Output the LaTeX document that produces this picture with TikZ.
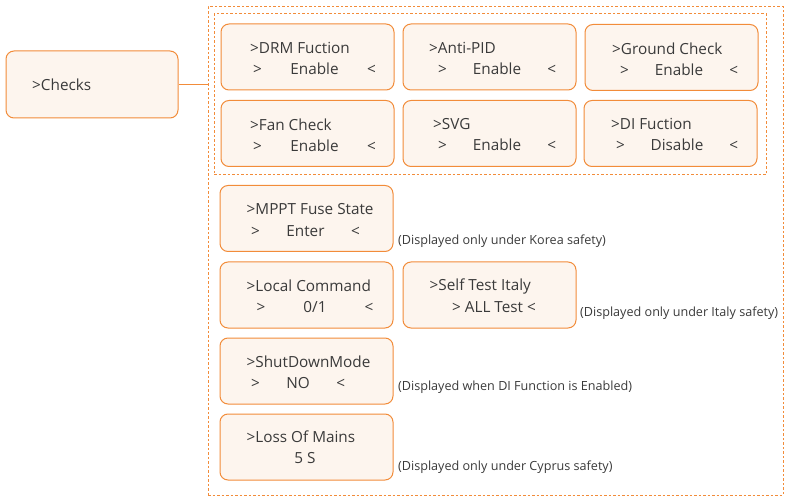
\documentclass[tikz,border=0pt]{standalone}
\usepackage{fontspec}
\setmainfont{Open Sans}
\definecolor{boxline}{HTML}{F28C3A}
\definecolor{boxfill}{HTML}{FDF5EE}
\definecolor{txtgray}{HTML}{3A3A3A}
\begin{document}
\begin{tikzpicture}[x=1pt,y=-1pt,
  menubox/.style={draw=boxline,fill=boxfill,line width=1pt,rounded corners=8pt,minimum width=173pt,minimum height=66pt,inner sep=0pt},
  grpbox/.style={draw=boxline,dash pattern=on 2.5pt off 2pt,line width=1pt,inner sep=0pt},
  menutitle/.style={anchor=west,inner sep=0pt,text=txtgray,font=\fontsize{15.3}{17}\selectfont},
  menuvalue/.style={inner sep=0pt,text=txtgray,font=\fontsize{15.3}{17}\selectfont},
  menunote/.style={anchor=west,inner sep=0pt,text=txtgray,font=\fontsize{12.6}{14}\selectfont}]
\useasboundingbox (0,0) rectangle (785,497);
\node[grpbox,minimum width=575pt,minimum height=488pt] (grp) at (495.5,251) {};
\node[grpbox,minimum width=552pt,minimum height=161pt] (grpin) at (490,94.5) {};
\node[menubox,minimum width=172pt,minimum height=67pt] (checks) at (92,84.5) {};
\node[menutitle] (checks-t) at (32,85) {>Checks};
\draw[boxline,line width=1pt] (checks.east) -- (checks.east -| grp.west);
\node[menubox] (drm) at (307.5,57) {};
\node[menubox] (antipid) at (489.5,57) {};
\node[menubox] (ground) at (671.5,57.5) {};
\node[menubox] (fan) at (307.5,133.5) {};
\node[menubox] (svg) at (489.5,133.5) {};
\node[menubox] (di) at (670.5,133.5) {};
\node[menubox] (mppt) at (306.5,218.5) {};
\node[menubox] (local) at (306.5,295) {};
\node[menubox] (italy) at (489.5,295) {};
\node[menubox] (shutdown) at (306.5,371) {};
\node[menubox] (loss) at (306.5,447) {};
\node[menutitle] (drm-t) at (250,48) {>DRM Fuction};
\node[menuvalue] (drm-v) at (314.5,69) {\makebox[123pt]{>\hfill Enable\hfill <}};
\node[menutitle] (antipid-t) at (429,48) {>Anti-PID};
\node[menuvalue] (antipid-v) at (497,69) {\makebox[118pt]{>\hfill Enable\hfill <}};
\node[menutitle] (ground-t) at (612,49) {>Ground Check};
\node[menuvalue] (ground-v) at (679,70) {\makebox[118pt]{>\hfill Enable\hfill <}};
\node[menutitle] (fan-t) at (250,125) {>Fan Check};
\node[menuvalue] (fan-v) at (314.5,145.5) {\makebox[123pt]{>\hfill Enable\hfill <}};
\node[menutitle] (svg-t) at (433,124) {>SVG};
\node[menuvalue] (svg-v) at (497,145) {\makebox[118pt]{>\hfill Enable\hfill <}};
\node[menutitle] (di-t) at (611,124) {>DI Fuction};
\node[menuvalue] (di-v) at (677,145) {\makebox[122pt]{>\hfill Disable\hfill <}};
\node[menutitle] (mppt-t) at (246.5,209) {>MPPT Fuse State};
\node[menuvalue] (mppt-v) at (305.5,231) {\makebox[109pt]{>\hfill Enter\hfill <}};
\node[menutitle] (local-t) at (246.5,286) {>Local Command};
\node[menuvalue] (local-v) at (315,307) {\makebox[117pt]{>\hfill 0/1\hfill <}};
\node[menutitle] (italy-t) at (429.5,286) {>Self Test Italy};
\node[menuvalue] (italy-v) at (494,307) {> ALL Test <};
\node[menutitle] (shutdown-t) at (246.5,362) {>ShutDownMode};
\node[menuvalue] (shutdown-v) at (298,383) {\makebox[94pt]{>\hfill NO\hfill <}};
\node[menutitle] (loss-t) at (246.5,437) {>Loss Of Mains};
\node[menuvalue] (loss-v) at (305,458) {5 S};
\node[menunote] (mppt-n) at (398,241) {(Displayed only under Korea safety)};
\node[menunote] (italy-n) at (580,313) {(Displayed only under Italy safety)};
\node[menunote] (shutdown-n) at (398,387.5) {(Displayed when DI Function is Enabled)};
\node[menunote] (loss-n) at (398,467.5) {(Displayed only under Cyprus safety)};
\end{tikzpicture}
\end{document}
